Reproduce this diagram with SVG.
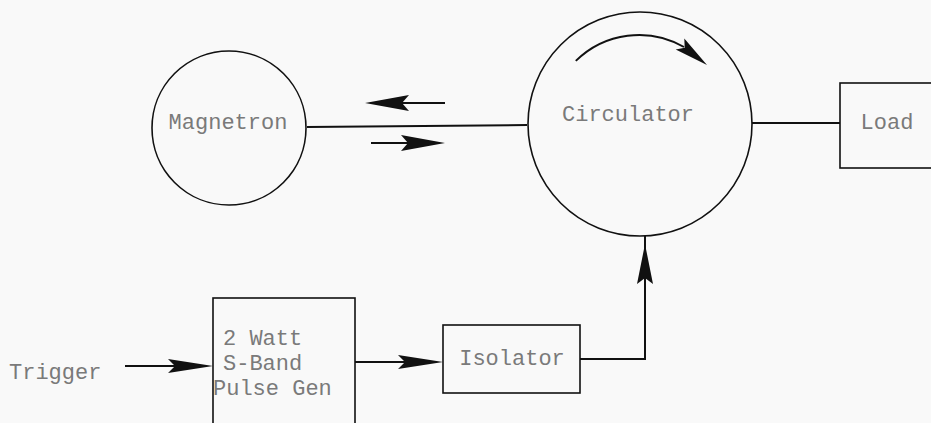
<svg xmlns="http://www.w3.org/2000/svg" width="931" height="423" viewBox="0 0 931 423">
<style>
.shape{fill:none;stroke:#111;stroke-width:1.6}
.wire{fill:none;stroke:#111;stroke-width:2}
.head{fill:#111;stroke:none}
.lbl{font-family:"Liberation Mono","DejaVu Sans Mono",monospace;fill:#7a7a7a;font-size:22px}
</style>
<rect width="931" height="423" fill="#f9f9f9"/>
<g id="connectors">
  <line class="wire" x1="307" y1="127" x2="527" y2="125"/>
  <line class="wire" x1="752" y1="123" x2="840" y2="123"/>
  <line class="wire" x1="372" y1="103" x2="445" y2="103"/>
  <path class="head" d="M365,103 L409,95 L402,103 L409,111 Z"/>
  <line class="wire" x1="371" y1="143" x2="438" y2="143"/>
  <path class="head" d="M445,143 L401,135 L408,143 L401,151 Z"/>
  <line class="wire" x1="125" y1="366" x2="206" y2="366"/>
  <path class="head" d="M213,366 L168,359 L175,366 L168,373 Z"/>
  <line class="wire" x1="355" y1="362" x2="436" y2="362"/>
  <path class="head" d="M443,362 L398,355 L405,362 L398,369 Z"/>
  <polyline class="wire" points="580,359 645,359 645,244"/>
  <line class="wire" x1="645" y1="250" x2="645" y2="236"/>
  <path class="head" d="M645,244 L637,284 L645,278 L653,284 Z"/>
  <path class="wire" d="M575.8,60.9 A90,90 0 0 1 684,47"/>
  <path class="head" d="M707,65 L675.7,49.5 L684.7,47.7 L684.3,38.5 Z"/>
</g>
<g id="magnetron">
  <circle class="shape" cx="229" cy="128" r="77"/>
  <text class="lbl" x="228" y="129" text-anchor="middle" font-size="21.5">Magnetron</text>
</g>
<g id="circulator">
  <circle class="shape" cx="640" cy="124" r="112"/>
  <text class="lbl" x="628" y="121" text-anchor="middle">Circulator</text>
</g>
<g id="load">
  <rect class="shape" x="840" y="83" width="110" height="85"/>
  <text class="lbl" x="887" y="129" text-anchor="middle">Load</text>
</g>
<g id="pulse-gen">
  <rect class="shape" x="213" y="298" width="142" height="140"/>
  <text class="lbl" x="223" y="345">2 Watt</text>
  <text class="lbl" x="223" y="370">S-Band</text>
  <text class="lbl" x="213" y="395">Pulse Gen</text>
</g>
<g id="isolator">
  <rect class="shape" x="443" y="325" width="137" height="68"/>
  <text class="lbl" x="512" y="365" text-anchor="middle">Isolator</text>
</g>
<g id="trigger">
  <text class="lbl" x="9" y="379" font-size="17.5">Trigger</text>
</g>
</svg>
